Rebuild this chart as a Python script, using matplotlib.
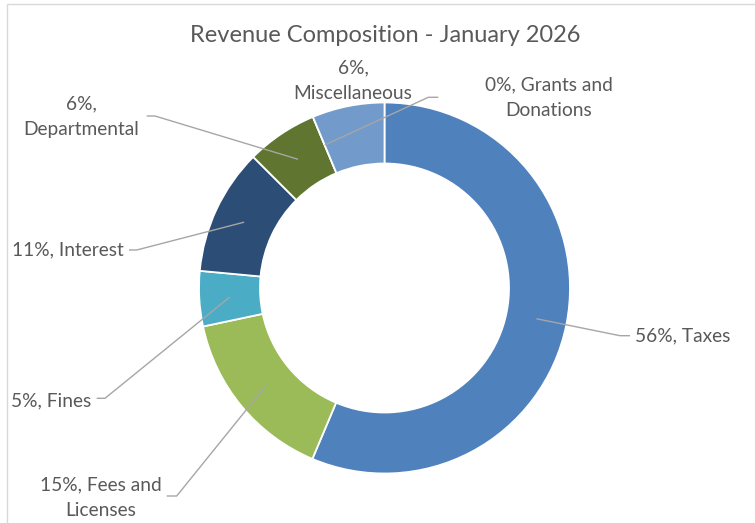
import matplotlib
matplotlib.use("Agg")
import matplotlib.pyplot as plt
from matplotlib.patches import Rectangle
import numpy as np

# ---- data ----
categories = ["Taxes", "Fees and Licenses", "Fines", "Interest",
              "Departmental", "Grants and Donations", "Miscellaneous"]
values = [56.3, 15.3, 4.8, 11.0, 6.2, 0.0, 6.3]
colors = ["#4F81BD", "#9BBB59", "#4BACC6", "#2C4D75",
          "#5F7530", "#8064A2", "#729ACA"]
label_texts = ["56%, Taxes", "15%, Fees and\nLicenses", "5%, Fines",
               "11%, Interest", "6%,\nDepartmental", "0%, Grants and\nDonations",
               "6%,\nMiscellaneous"]
title = "Revenue Composition - January 2026"

# ---- layout (pixel coordinates, y measured from top) ----
W, H = 755, 523
FONT = "Lato"
TXT = "#595959"
LINE = "#A6A6A6"

fig = plt.figure(figsize=(W / 100, H / 100), dpi=100)
ax = fig.add_axes([0, 0, 1, 1])
ax.set_xlim(0, W)
ax.set_ylim(0, H)
ax.set_aspect("equal")
ax.axis("off")

def Y(py):
    return H - py

cx, cy = 384.5, 288.0
R = 185.5
ring = 61.0

wedges, _ = ax.pie(values, colors=colors, startangle=90, counterclock=False,
                   radius=R, center=(cx, Y(cy)),
                   wedgeprops=dict(width=ring, edgecolor="white", linewidth=1.3))
ax.set_xlim(0, W)
ax.set_ylim(0, H)

# label placement: (x, y, ha, elbow, end) in pixel coords
label_layout = [
    (635, 336, "left", (620, 335.7), (630, 335.7)),
    (101, 497.5, "center", (176.7, 496), (166.7, 496)),
    (91, 401, "right", (105, 398.3), (96.7, 398.3)),
    (124, 250, "right", (136.7, 250), (129, 250)),
    (81, 117, "center", (155, 116), (146.7, 116)),
    (549, 98, "center", (428.3, 97.3), (438.3, 97.3)),
    (353, 80.5, "center", None, None),
]

rmid = R - ring / 2
for w, txt, (lx, ly, ha, elbow, end) in zip(wedges, label_texts, label_layout):
    ang = np.deg2rad((w.theta1 + w.theta2) / 2)
    sx = cx + rmid * np.cos(ang)
    sy = Y(cy) + rmid * np.sin(ang)
    if elbow is not None:
        ax.plot([sx, elbow[0], end[0]], [sy, Y(elbow[1]), Y(end[1])],
                color=LINE, lw=1.0, solid_capstyle="butt")
    ax.text(lx, Y(ly), txt, ha=ha, va="center", fontsize=13.8, color=TXT,
            family=FONT, linespacing=1.6, multialignment="center")

ax.text(385, Y(35), title, ha="center", va="center", fontsize=17,
        color=TXT, family=FONT)

# chart-area border
fig.patches.append(Rectangle((6.5 / W, -0.1), 1.2, (H - 3.5) / H + 0.1,
                             transform=fig.transFigure, fill=False,
                             edgecolor="#D9D9D9", lw=1.0))

fig.savefig("out.png", dpi=100, facecolor="white")
